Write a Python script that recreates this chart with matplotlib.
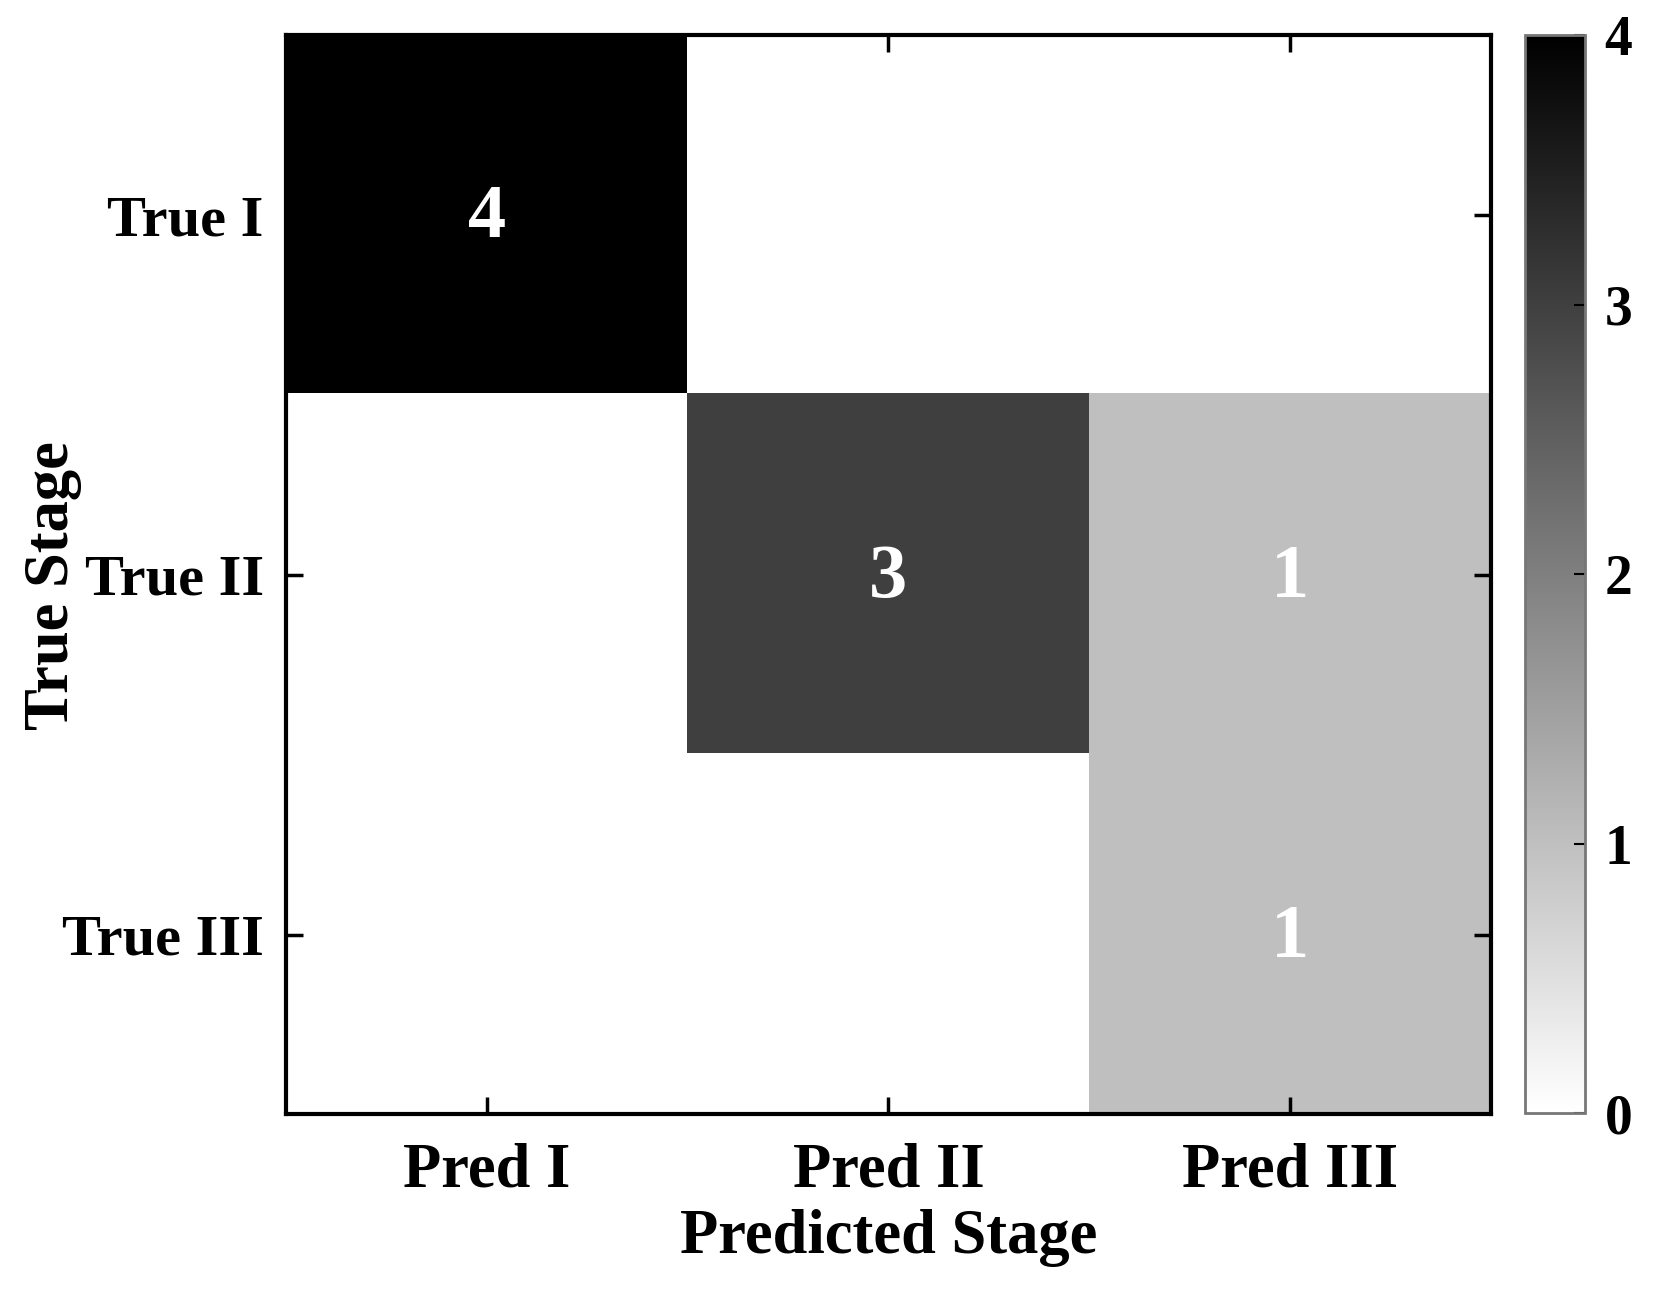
import numpy as np
import matplotlib.pyplot as plt

plt.rcParams['font.family'] = ['Liberation Serif', 'DejaVu Serif']
plt.rcParams['font.weight'] = 'bold'

row_labels = ['True I', 'True II', 'True III']
col_labels = ['Pred I', 'Pred II', 'Pred III']
counts = np.array([[4, 0, 0],
                   [0, 3, 1],
                   [0, 0, 1]])

fig = plt.figure(figsize=(16.56, 12.89), dpi=100)
ax = fig.add_axes([0.1727, 0.1354, 0.7276, 0.8373])
cax = fig.add_axes([0.9210, 0.1362, 0.0362, 0.8367])

im = ax.imshow(counts, cmap='gray_r', vmin=0, vmax=4, aspect='auto',
               interpolation='nearest')

for i in range(counts.shape[0]):
    for j in range(counts.shape[1]):
        if counts[i, j] > 0:
            ax.text(j, i + 0.01, str(counts[i, j]), ha='center', va='center',
                    color='white', fontsize=55, fontweight='bold')

ax.set_xticks(range(len(col_labels)))
ax.set_xticklabels(col_labels, fontsize=45, fontweight='bold')
ax.set_yticks(range(len(row_labels)))
ax.set_yticklabels(row_labels, fontsize=42, fontweight='bold')
ax.tick_params(direction='in', length=12, width=2.5, top=True, right=True)
ax.tick_params(axis='x', pad=20)
ax.tick_params(axis='y', pad=16)
for s in ax.spines.values():
    s.set_linewidth(3)
ax.set_xlabel('Predicted Stage', fontsize=45, fontweight='bold', labelpad=6)
ax.set_ylabel('True Stage', fontsize=45, fontweight='bold')
ax.yaxis.set_label_coords(-0.169, 0.49)

cb = fig.colorbar(im, cax=cax, ticks=[0, 1, 2, 3, 4])
cb.ax.tick_params(direction='in', length=8, width=1.5, labelsize=40, pad=14)
cb.outline.set_edgecolor('#777777')
cb.outline.set_linewidth(2)
for t in cb.ax.get_yticklabels():
    t.set_fontweight('bold')

fig.savefig('out.png', dpi=100)
